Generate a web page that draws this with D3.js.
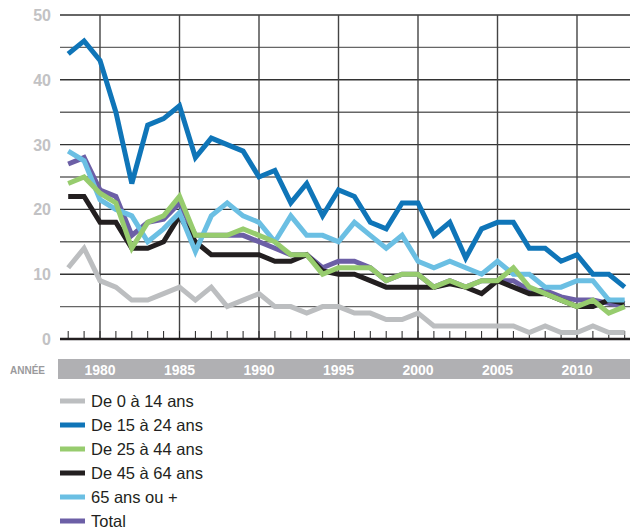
<!DOCTYPE html>
<html><head><meta charset="utf-8">
<script src="https://cdn.jsdelivr.net/npm/d3@7"></script>
<style>body{margin:0;background:#fff}svg{display:block}</style>
</head><body>
<svg id="c" width="630" height="529"></svg>
<script>
const years = d3.range(1978, 2014);
const yTicks = [0, 10, 20, 30, 40, 50];
const xLabels = [1980, 1985, 1990, 1995, 2000, 2005, 2010];
const seriesNames = ["De 0 à 14 ans", "De 15 à 24 ans", "De 25 à 44 ans", "De 45 à 64 ans", "65 ans ou +", "Total"];
const age0_14 = [11,14,9,8,6,6,7,8,6,8,5,6,7,5,5,4,5,5,4,4,3,3,4,2,2,2,2,2,2,1,2,1,1,2,1,1];
const age15_24 = [44,46,43,35,24,33,34,36,28,31,30,29,25,26,21,24,19,23,22,18,17,21,21,16,18,12.5,17,18,18,14,14,12,13,10,10,8];
const age25_44 = [24,25,22.5,21,14,18,19,22,16,16,16,17,16,15,13,13,10,11,11,11,9,10,10,8,9,8,9,9,11,8,7,6,5,6,4,5];
const age45_64 = [22,22,18,18,14,14,15,19,15,13,13,13,13,12,12,13,10.5,10,10,9,8,8,8,8,8.5,8,7,9,8,7,7,6,5,5,6,5.5];
const age65 = [29,27.5,21.5,20,19,15,17,19.5,13.5,19,21,19,18,15,19,16,16,15,18,16,14,16,12,11,12,11,10,12,10,10,8,8,9,9,6,6];
const total = [27,28,23,22,16,18,18.5,21,16,16,16,16,15,14,13,13,11,12,12,11,9,10,10,8,9,8,9,9,9,7.5,7.5,6.5,6,6,5.5,5];
const colors = ["#bcbec0", "#0f75b8", "#97cc6e", "#231f20", "#6bbfe3", "#6c5fa6"];
const values = [age0_14, age15_24, age25_44, age45_64, age65, total];
const drawOrder = [0, 5, 3, 4, 2, 1];

const svg = d3.select("#c");
const x = d3.scaleLinear().domain([1980, 2010]).range([100, 577]);
const y = d3.scaleLinear().domain([0, 50]).range([339, 15]);
const left = 60, right = 630;

// horizontal grid
svg.append("g").selectAll("line").data(d3.range(5, 51, 5)).join("line")
  .attr("x1", left).attr("x2", right)
  .attr("y1", d => y(d)).attr("y2", d => y(d))
  .attr("stroke", d => d % 10 === 0 ? "#333" : "#666").attr("stroke-width", 1.4);
// vertical grid
svg.append("g").selectAll("line").data(xLabels).join("line")
  .attr("x1", d => x(d)).attr("x2", d => x(d))
  .attr("y1", y(50)).attr("y2", y(0))
  .attr("stroke", "#444").attr("stroke-width", 1.4);
// year ticks
svg.append("g").selectAll("line").data(years).join("line")
  .attr("x1", d => x(d)).attr("x2", d => x(d))
  .attr("y1", y(0) - 8).attr("y2", y(0))
  .attr("stroke", "#222").attr("stroke-width", 1);
// baseline
svg.append("line").attr("x1", left).attr("x2", right).attr("y1", y(0)).attr("y2", y(0))
  .attr("stroke", "#231f20").attr("stroke-width", 2.6);

// y labels
svg.append("g").selectAll("text").data(yTicks).join("text")
  .attr("x", 51).attr("y", d => y(d) + 6)
  .attr("text-anchor", "end")
  .attr("font-family", "Liberation Sans, Arial, sans-serif")
  .attr("font-weight", "bold").attr("font-size", 16).attr("fill", "#c2c2c4")
  .text(d => d);

// lines
const line = d3.line().x((d, i) => x(years[i])).y(d => y(d));
svg.append("g").selectAll("path").data(drawOrder).join("path")
  .attr("d", k => line(values[k]))
  .attr("fill", "none").attr("stroke", k => colors[k])
  .attr("stroke-width", 5).attr("stroke-linejoin", "miter").attr("stroke-miterlimit", 4);

// x band
svg.append("rect").attr("x", 58).attr("y", 359).attr("width", right - 58).attr("height", 20).attr("fill", "#b0b0b3");
svg.append("g").selectAll("text").data(xLabels).join("text")
  .attr("x", d => x(d)).attr("y", 375)
  .attr("text-anchor", "middle")
  .attr("font-family", "Liberation Sans, Arial, sans-serif")
  .attr("font-weight", "bold").attr("font-size", 14).attr("fill", "#fff")
  .text(d => d);
svg.append("text").attr("x", 10).attr("y", 374)
  .attr("font-family", "Liberation Sans, Arial, sans-serif")
  .attr("font-weight", "bold").attr("font-size", 10).attr("fill", "#9a9a9c")
  .text("ANNÉE");

// legend
const lg = svg.append("g").selectAll("g").data(seriesNames).join("g")
  .attr("transform", (d, i) => `translate(60,${401 + i * 24})`);
lg.append("rect").attr("x", 0).attr("y", -2.5).attr("width", 25).attr("height", 5)
  .attr("fill", (d, i) => colors[i]);
lg.append("text").attr("x", 31).attr("y", 6)
  .attr("font-family", "Liberation Sans, Arial, sans-serif")
  .attr("font-size", 16.5).attr("fill", "#231f20")
  .text(d => d);
</script>
</body></html>
